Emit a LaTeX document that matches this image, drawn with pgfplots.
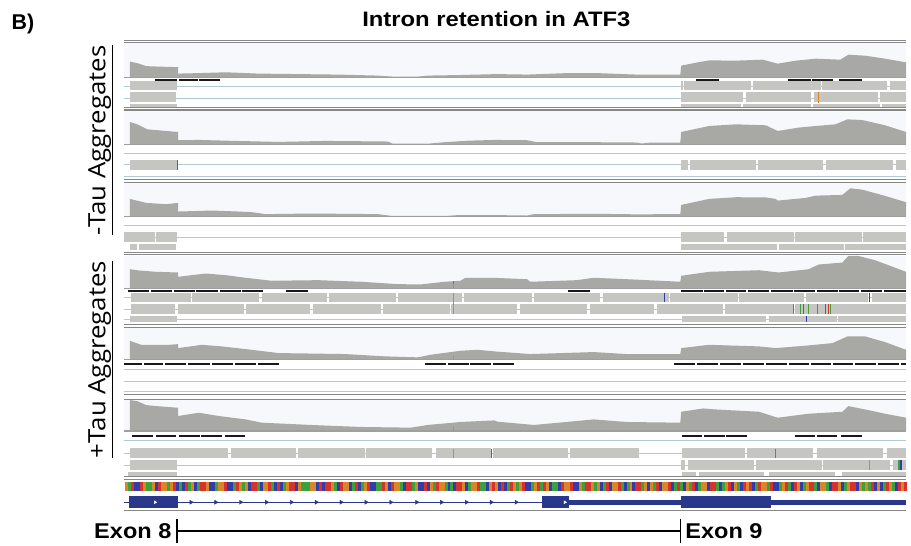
\documentclass[border=0pt]{standalone}
\usepackage{pgfplots}
\pgfplotsset{compat=1.18}
\usepackage{pgfplotstable}
\usepackage{graphicx}
\usepackage{fontspec}
\setmainfont{Liberation Sans}
\newfontfamily\headfont{Liberation Sans}
\newfontfamily\labfont{Open Sans}
\definecolor{covgray}{RGB}{168,168,164}
\definecolor{readgray}{RGB}{197,197,193}
\definecolor{sepgray}{RGB}{135,135,135}
\definecolor{lblue}{RGB}{178,202,214}
\definecolor{bgtrack}{RGB}{247,248,251}
\definecolor{navy}{RGB}{42,56,140}
\definecolor{barblack}{RGB}{25,25,25}
\definecolor{seqA}{RGB}{60,160,60}
\definecolor{seqC}{RGB}{50,60,170}
\definecolor{seqG}{RGB}{215,135,40}
\definecolor{seqT}{RGB}{215,50,45}
\pgfplotstableread[row sep=\\]{b d\\
G 0\\A 0\\T 0\\C 0\\C 0\\T 0\\G 0\\A 0\\A 0\\G 0\\C 0\\T 0\\G 0\\G 0\\A 0\\G 0\\T 0\\C 0\\A 0\\C 0\\
T 0\\A 0\\G 0\\C 0\\A 0\\T 0\\T 0\\G 0\\C 0\\C 0\\A 0\\G 0\\G 0\\T 0\\C 0\\C 0\\A 0\\T 0\\G 0\\A 0\\
G 0\\C 0\\T 0\\T 0\\A 0\\C 0\\G 0\\G 0\\T 0\\A 0\\C 0\\T 0\\C 0\\A 0\\G 0\\T 0\\T 0\\C 0\\G 0\\A 0\\
A 0\\A 0\\G 0\\G 0\\C 0\\T 0\\C 0\\T 0\\T 0\\G 0\\A 0\\C 0\\T 0\\G 0\\G 0\\C 0\\A 0\\T 0\\C 0\\A 0\\
G 0\\T 0\\C 0\\C 0\\A 0\\A 0\\T 0\\G 0\\C 0\\T 0\\G 0\\G 0\\A 0\\C 0\\T 0\\T 0\\A 0\\G 0\\C 0\\C 0\\
T 0\\C 0\\G 0\\A 0\\T 0\\G 0\\G 0\\A 0\\C 0\\A 0\\C 0\\T 0\\T 0\\G 0\\C 0\\A 0\\G 0\\G 0\\T 0\\A 0\\
A 0\\C 0\\G 0\\T 0\\G 0\\C 0\\T 0\\C 0\\A 0\\T 0\\G 0\\A 0\\G 0\\T 0\\C 0\\C 0\\A 0\\G 0\\T 0\\A 0\\
T 0\\G 0\\C 0\\A 0\\A 0\\C 0\\T 0\\G 0\\G 0\\T 0\\C 0\\C 0\\G 0\\A 0\\T 0\\T 0\\G 0\\A 0\\G 0\\C 0\\
A 0\\T 0\\C 0\\G 0\\G 0\\T 0\\A 0\\C 0\\A 0\\G 0\\C 0\\T 0\\T 0\\A 0\\G 0\\C 0\\G 0\\A 0\\T 0\\C 0\\
G 0\\G 0\\T 0\\C 0\\A 0\\T 0\\A 0\\C 0\\G 0\\A 0\\T 0\\C 0\\A 0\\G 0\\G 0\\C 0\\T 0\\T 0\\A 0\\C 0\\
A 0\\G 0\\T 0\\C 0\\G 0\\A 0\\C 0\\T 0\\G 0\\T 0\\C 0\\A 0\\T 0\\G 0\\G 0\\A 0\\T 0\\C 0\\C 0\\A 0\\
G 0\\T 0\\A 0\\C 0\\T 0\\G 0\\C 0\\A 0\\G 0\\T 0\\T 0\\A 0\\C 0\\G 0\\G 0\\A 0\\C 0\\T 0\\T 0\\G 0\\
C 0\\A 0\\G 0\\T 0\\T 0\\C 0\\G 0\\A 0\\G 0\\A 0\\T 0\\C 0\\G 0\\C 0\\A 0\\T 0\\G 0\\A 0\\C 0\\T 0\\
G 0\\T 0\\
}\seqtab
\begin{document}
\begin{tikzpicture}
\begin{axis}[width=911bp,height=548bp,scale only axis,
  xmin=0,xmax=911,ymin=0,ymax=548,y dir=reverse,
  hide axis,clip=false,enlargelimits=false,unbounded coords=jump]
% page background
\addplot[fill=white,draw=none] coordinates {(0,0)(911,0)(911,548)(0,548)};
% coverage backgrounds
\addplot[fill=bgtrack,draw=none] coordinates {(125,43.5)(911,43.5)(911,78)(125,78)};
\addplot[fill=bgtrack,draw=none] coordinates {(125,111)(911,111)(911,145)(125,145)};
\addplot[fill=bgtrack,draw=none] coordinates {(125,184)(911,184)(911,217.3)(125,217.3)};
\addplot[fill=bgtrack,draw=none] coordinates {(125,257)(911,257)(911,290)(125,290)};
\addplot[fill=bgtrack,draw=none] coordinates {(125,330)(911,330)(911,361.7)(125,361.7)};
\addplot[fill=bgtrack,draw=none] coordinates {(125,402)(911,402)(911,433.3)(125,433.3)};
% light blue row lines
\addplot[draw=lblue,line width=1bp] coordinates {
(125,86.7)(911,86.7)(0,nan)(125,98.7)(911,98.7)(0,nan)
(125,154)(911,154)(0,nan)(125,165.7)(911,165.7)(0,nan)(125,177.7)(911,177.7)(0,nan)
(125,226.7)(911,226.7)(0,nan)(125,238.3)(911,238.3)(0,nan)
(125,299.2)(911,299.2)(0,nan)(125,310.8)(911,310.8)(0,nan)(125,320.8)(911,320.8)(0,nan)
(125,371.7)(911,371.7)(0,nan)(125,383.3)(911,383.3)(0,nan)(125,393.5)(911,393.5)(0,nan)
(125,443.3)(911,443.3)(0,nan)(125,455.8)(911,455.8)(0,nan)(125,467.7)(911,467.7)};
% coverage
\addplot[fill=covgray,draw=none] coordinates {(130.7,78)(130.7,62)(138,63.5)(147,66.5)(160,67)(179,67.5)(179,74)(200,73.5)(227,72.7)(260,74)(300,74.5)(340,75)(380,76)(395,77)(420,77)(430,76)(460,75.5)(500,74.5)(530,75)(570,73.5)(600,73.5)(640,75)(684,75)(685,66)(700,63)(713,60.7)(740,61)(767,60)(782,64)(800,61)(820,59)(845,60)(853,55)(870,56)(890,59)(911,62.7)(911,78)};
\addplot[fill=covgray,draw=none] coordinates {(130.7,145)(130.7,122.7)(138,125)(148,130)(165,131.5)(179,132.7)(179,141)(200,140.7)(237,141.7)(280,142.7)(327,141.7)(360,142)(390,142.3)(395,144.5)(430,144.5)(447,143)(470,141.5)(497,140.7)(530,141)(540,143)(600,143)(640,143.3)(645,144.3)(655,143.3)(684,143.3)(685,132.7)(713,126.7)(740,125)(770,126)(782,131.7)(803,128.3)(820,126.7)(840,125)(852,120)(867,120.7)(890,126)(911,132.7)(911,145)};
\addplot[fill=covgray,draw=none] coordinates {(130.7,217.3)(130.7,200)(147,204)(167,205.3)(179,204)(179,212.7)(213,211.7)(240,212.7)(253,213.3)(267,215.3)(313,214.7)(380,215.3)(393,217)(450,217)(460,216.3)(500,216.3)(530,216.7)(537,215.3)(600,215)(640,215.5)(684,215.3)(685,206)(713,200)(740,198.3)(770,198.5)(780,200)(782,201.7)(810,199)(820,196.7)(847,196)(855,189.3)(867,190.7)(890,197)(911,203.3)(911,217.3)};
\addplot[fill=covgray,draw=none] coordinates {(130.7,290)(130.7,270.7)(140,272)(157,273.3)(179,274)(179,278.3)(190,277)(207,275)(227,276.7)(247,279.3)(273,282.3)(320,281.7)(363,283.3)(400,285.7)(423,286)(447,283.3)(463,282.3)(468,279.3)(500,279.5)(530,280.7)(533,283.3)(580,281.7)(597,279.3)(630,280.7)(684,283.3)(685,277.3)(713,273.3)(763,271.7)(783,274)(813,270.7)(823,266)(847,264)(853,257.3)(863,257.3)(880,261.7)(911,273.3)(911,290)};
\addplot[fill=covgray,draw=none] coordinates {(130.7,361.7)(130.7,342.7)(142,346.7)(170,346.7)(179,346)(179,350)(203,346.7)(223,348.3)(253,351.7)(280,355)(347,356)(387,358.3)(420,359.3)(433,356.7)(463,352.7)(480,351.7)(497,353.3)(533,356)(597,354)(630,356)(684,356)(685,350)(713,346.7)(763,348.3)(780,350)(813,347.3)(837,345)(852,338.3)(870,338.3)(890,344)(911,351.7)(911,361.7)};
\addplot[fill=covgray,draw=none] coordinates {(130.7,433.3)(130.7,402.3)(138,403.3)(147,407.3)(157,408.3)(179,410)(179,418.3)(200,415)(220,418.3)(247,421.7)(263,425)(313,427.3)(363,429.3)(413,430)(430,427.3)(463,424.3)(497,422.7)(500,424)(537,427.3)(580,423.3)(597,421.7)(630,424.3)(684,425)(685,414)(707,410.7)(720,411.7)(763,414)(782,420)(813,416)(847,414)(853,408.3)(870,411.7)(890,416)(911,420)(911,433.3)};
% coverage baselines
\addplot[draw=gray!75,line width=1.2bp] coordinates {(125,78)(911,78)(0,nan)(125,145)(911,145)(0,nan)(125,217.3)(911,217.3)(0,nan)(125,290)(911,290)(0,nan)(125,361.7)(911,361.7)(0,nan)(125,433.3)(911,433.3)};
% black bars
\addplot[draw=barblack,line width=2.2bp] coordinates {
(155.7,80.7)(178,80.7)(0,nan)(179.5,80.7)(199,80.7)(0,nan)(200.5,80.7)(221.7,80.7)(0,nan)(700,80.7)(722.7,80.7)(0,nan)(792.7,80.7)(815,80.7)(0,nan)(816,80.7)(837.3,80.7)(0,nan)(844,80.7)(866.7,80.7)};
\addplot[draw=barblack,line width=2.2bp] coordinates {
(129,292.7)(150,292.7)(0,nan)(152,292.7)(173,292.7)(0,nan)(175,292.7)(196,292.7)(0,nan)(197,292.7)(219,292.7)(0,nan)(221,292.7)(242,292.7)(0,nan)(243,292.7)(264,292.7)(0,nan)(288,292.7)(310,292.7)(0,nan)(571,292.7)(593,292.7)(0,nan)(685,292.7)(707,292.7)(0,nan)(708,292.7)(728,292.7)(0,nan)(730,292.7)(750,292.7)(0,nan)(752,292.7)(773,292.7)(0,nan)(775,292.7)(797,292.7)(0,nan)(798,292.7)(819,292.7)(0,nan)(821,292.7)(843,292.7)(0,nan)(844,292.7)(864,292.7)(0,nan)(866,292.7)(887,292.7)(0,nan)(889,292.7)(911,292.7)};
\addplot[draw=barblack,line width=2.2bp] coordinates {
(125,365.7)(143,365.7)(0,nan)(145,365.7)(164,365.7)(0,nan)(166,365.7)(187,365.7)(0,nan)(189,365.7)(211,365.7)(0,nan)(213,365.7)(234,365.7)(0,nan)(236,365.7)(257,365.7)(0,nan)(259,365.7)(281,365.7)(0,nan)(427,365.7)(448,365.7)(0,nan)(450,365.7)(472,365.7)(0,nan)(473,365.7)(494,365.7)(0,nan)(496,365.7)(517,365.7)(0,nan)(678,365.7)(699,365.7)(0,nan)(701,365.7)(722,365.7)(0,nan)(724,365.7)(745,365.7)(0,nan)(747,365.7)(768,365.7)(0,nan)(770,365.7)(791,365.7)(0,nan)(793,365.7)(813,365.7)(0,nan)(815,365.7)(836,365.7)(0,nan)(838,365.7)(858,365.7)(0,nan)(860,365.7)(881,365.7)(0,nan)(883,365.7)(904,365.7)(0,nan)(906,365.7)(911,365.7)};
\addplot[draw=barblack,line width=2.2bp] coordinates {
(133,438.3)(154,438.3)(0,nan)(157,438.3)(177,438.3)(0,nan)(180,438.3)(201,438.3)(0,nan)(202,438.3)(223,438.3)(0,nan)(226,438.3)(246,438.3)(0,nan)(686,438.3)(706,438.3)(0,nan)(708,438.3)(729,438.3)(0,nan)(730,438.3)(751,438.3)(0,nan)(799,438.3)(819,438.3)(0,nan)(821,438.3)(842,438.3)(0,nan)(846,438.3)(867,438.3)};
% reads panel 1
\addplot[draw=readgray,line width=9bp] coordinates {(131,86.2)(178,86.2)(0,nan)(685,86.2)(687,86.2)(0,nan)(688,86.2)(755,86.2)(0,nan)(757,86.2)(825,86.2)(0,nan)(826,86.2)(891.7,86.2)(0,nan)(895,86.2)(911,86.2)};
\addplot[draw=readgray,line width=10bp] coordinates {(131,98)(176.7,98)(0,nan)(685,98)(747.5,98)(0,nan)(750,98)(815,98)(0,nan)(818,98)(883,98)(0,nan)(885,98)(911,98)};
\addplot[draw=readgray,line width=2.5bp] coordinates {(131,106)(178,106)(0,nan)(685,106)(745,106)(0,nan)(747,106)(815,106)(0,nan)(817,106)(885,106)(0,nan)(887,106)(911,106)};
% reads panel 2
\addplot[draw=readgray,line width=10bp] coordinates {(131,165.7)(179,165.7)(0,nan)(685,165.7)(692,165.7)(0,nan)(694,165.7)(760,165.7)(0,nan)(762,165.7)(828,165.7)(0,nan)(831,165.7)(898,165.7)(0,nan)(901,165.7)(911,165.7)};
% reads panel 3
\addplot[draw=readgray,line width=10bp] coordinates {(125,238.3)(156,238.3)(0,nan)(157,238.3)(178,238.3)(0,nan)(685,238.3)(728,238.3)(0,nan)(731,238.3)(798,238.3)(0,nan)(799,238.3)(867,238.3)(0,nan)(868,238.3)(911,238.3)};
\addplot[draw=readgray,line width=6bp] coordinates {(131,248.7)(138,248.7)(0,nan)(140,248.7)(177,248.7)(0,nan)(685,248.7)(781,248.7)(0,nan)(783,248.7)(849,248.7)(0,nan)(850,248.7)(911,248.7)};
% reads panel 4
\addplot[draw=readgray,line width=9.7bp] coordinates {(132,299.2)(192,299.2)(0,nan)(193,299.2)(260,299.2)(0,nan)(263,299.2)(329,299.2)(0,nan)(331,299.2)(398,299.2)(0,nan)(400,299.2)(465,299.2)(0,nan)(467,299.2)(535,299.2)(0,nan)(537,299.2)(603,299.2)(0,nan)(606,299.2)(673,299.2)(0,nan)(674,299.2)(742,299.2)(0,nan)(743,299.2)(808,299.2)(0,nan)(810,299.2)(873,299.2)(0,nan)(877,299.2)(911,299.2)};
\addplot[draw=readgray,line width=9.7bp] coordinates {(132,310.8)(176,310.8)(0,nan)(179,310.8)(245,310.8)(0,nan)(247,310.8)(312,310.8)(0,nan)(315,310.8)(383,310.8)(0,nan)(385,310.8)(452,310.8)(0,nan)(453,310.8)(520,310.8)(0,nan)(523,310.8)(590,310.8)(0,nan)(593,310.8)(658,310.8)(0,nan)(661,310.8)(727,310.8)(0,nan)(729,310.8)(797,310.8)(0,nan)(799,310.8)(911,310.8)};
\addplot[draw=readgray,line width=6.3bp] coordinates {(131,320.8)(178,320.8)(0,nan)(686,320.8)(770,320.8)(0,nan)(773,320.8)(842,320.8)(0,nan)(843,320.8)(911,320.8)};
% reads panel 6
\addplot[draw=readgray,line width=9.7bp] coordinates {(131,455.8)(229,455.8)(0,nan)(232,455.8)(298,455.8)(0,nan)(300,455.8)(367,455.8)(0,nan)(368,455.8)(434,455.8)(0,nan)(438,455.8)(494,455.8)(0,nan)(496,455.8)(571,455.8)(0,nan)(573,455.8)(642,455.8)(0,nan)(686,455.8)(749,455.8)(0,nan)(751,455.8)(817,455.8)(0,nan)(821,455.8)(888,455.8)(0,nan)(892,455.8)(911,455.8)};
\addplot[draw=readgray,line width=10bp] coordinates {(131,467.7)(178,467.7)(0,nan)(685,467.7)(689,467.7)(0,nan)(692,467.7)(758,467.7)(0,nan)(760,467.7)(826,467.7)(0,nan)(828,467.7)(895,467.7)(0,nan)(898,467.7)(911,467.7)};
\addplot[draw=readgray,line width=3.3bp] coordinates {(129,476.7)(178,476.7)(0,nan)(686,476.7)(700,476.7)(0,nan)(703,476.7)(768,476.7)(0,nan)(773,476.7)(840,476.7)(0,nan)(847,476.7)(911,476.7)};
% mismatch ticks
\addplot[draw=seqG,line width=1.2bp] coordinates {(822.7,92.7)(822.7,103.3)(0,nan)(456,294.3)(456,315.7)(0,nan)(456,451)(456,460.7)(0,nan)(874,462.7)(874,472.7)(0,nan)(456,286)(456,290)(0,nan)(456,358)(456,361.7)(0,nan)(456,429)(456,433.3)};
\addplot[draw=seqT,line width=1.2bp] coordinates {(178.7,160.7)(178.7,170.7)(0,nan)(808,306)(808,315.7)(0,nan)(830,306)(830,315.7)(0,nan)(833,306)(833,315.7)(0,nan)(494,451)(494,460.7)};
\addplot[draw=seqA,line width=1.2bp] coordinates {(798,306)(798,315.7)(0,nan)(805,306)(805,315.7)(0,nan)(813,306)(813,315.7)(0,nan)(822,306)(822,315.7)(0,nan)(835,306)(835,315.7)(0,nan)(780,451)(780,460.7)(0,nan)(904,462.7)(904,472.7)(0,nan)(456,283)(456,286)};
\addplot[draw=seqC,line width=1.2bp] coordinates {(668,294.3)(668,304)(0,nan)(874,294.3)(874,304)(0,nan)(811,317.7)(811,324)(0,nan)(906,462.7)(906,472.7)};
% panel separators
\addplot[draw=sepgray,line width=1.2bp] coordinates {
(125,40.5)(911,40.5)(0,nan)(125,43)(911,43)(0,nan)
(125,107.7)(911,107.7)(0,nan)(125,110.7)(911,110.7)(0,nan)
(125,180.5)(911,180.5)(0,nan)(125,183.5)(911,183.5)(0,nan)
(125,253.5)(911,253.5)(0,nan)(125,256.3)(911,256.3)(0,nan)
(125,326.3)(911,326.3)(0,nan)(125,329.3)(911,329.3)(0,nan)
(125,396.5)(911,396.5)(0,nan)(125,401.5)(911,401.5)(0,nan)
(125,479.5)(911,479.5)(0,nan)(125,481.8)(911,481.8)(0,nan)
(125,513.3)(911,513.3)};
% sequence
\addplot[scatter,only marks,point meta=explicit symbolic,mark size=4.5bp,
  scatter/classes={A={mark=|,draw=seqA,line width=3.1bp},C={mark=|,draw=seqC,line width=3.1bp},
  G={mark=|,draw=seqG,line width=3.1bp},T={mark=|,draw=seqT,line width=3.1bp}}]
  table[x expr=127.5+3*\coordindex,y expr=488.8,meta=b]{\seqtab};
% gene model
\addplot[draw=navy,line width=1bp] coordinates {(125,505)(545,505)};
\addplot[fill=navy,draw=none] coordinates {(130,499)(179,499)(179,510.8)(130,510.8)};
\addplot[fill=navy,draw=none] coordinates {(545,499)(572,499)(572,510.8)(545,510.8)};
\addplot[fill=navy,draw=none] coordinates {(685,499)(775,499)(775,510.8)(685,510.8)};
\addplot[fill=navy,draw=none] coordinates {(572,502.6)(685,502.6)(685,507.6)(572,507.6)};
\addplot[fill=navy,draw=none] coordinates {(775,502.6)(911,502.6)(911,507.6)(775,507.6)};
\addplot[only marks,mark=triangle*,mark size=2.3bp,mark options={rotate=-90,fill=navy,draw=navy}] coordinates {(192,505)(217,505)(242,505)(268,505)(293,505)(318,505)(343,505)(368,505)(393,505)(419,505)(444,505)(469,505)(494,505)(519,505)};
\addplot[only marks,mark=triangle*,mark size=1.6bp,mark options={rotate=-90,fill=white,draw=white}] coordinates {(156,505)(568,505)};
% exon bracket
\addplot[draw=black,line width=1.3bp] coordinates {(178,534)(684,534)(0,nan)(178,521.7)(178,546)(0,nan)(684,521.7)(684,546)};
% texts
\node[anchor=base west,inner sep=0pt,font={\headfont\fontsize{21.5bp}{25bp}\selectfont\bfseries}] at (axis cs:11.5,30) {B)};
\node[anchor=base,inner sep=0pt,font={\headfont\fontsize{21bp}{25bp}\selectfont\bfseries}] at (axis cs:499,26.7) {\scalebox{1.14}[1]{Intron retention in ATF3}};
\node[anchor=base east,font={\headfont\fontsize{21.5bp}{25bp}\selectfont\bfseries},inner sep=0pt] at (axis cs:172.5,541.7) {\scalebox{1.1}[1]{Exon 8}};
\node[anchor=base west,font={\headfont\fontsize{21.5bp}{25bp}\selectfont\bfseries},inner sep=0pt] at (axis cs:689,541.7) {\scalebox{1.1}[1]{Exon 9}};
\node[rotate=90,anchor=base,font={\labfont\fontsize{24bp}{28bp}\selectfont},inner sep=0pt] at (axis cs:106,141) {\underline{\scalebox{1.08}[1]{-Tau Aggregates}}};
\node[rotate=90,anchor=base,font={\labfont\fontsize{24bp}{28bp}\selectfont},inner sep=0pt] at (axis cs:106,361.5) {\underline{\scalebox{1.08}[1]{+Tau Aggregates}}};
\end{axis}
\end{tikzpicture}
\end{document}
